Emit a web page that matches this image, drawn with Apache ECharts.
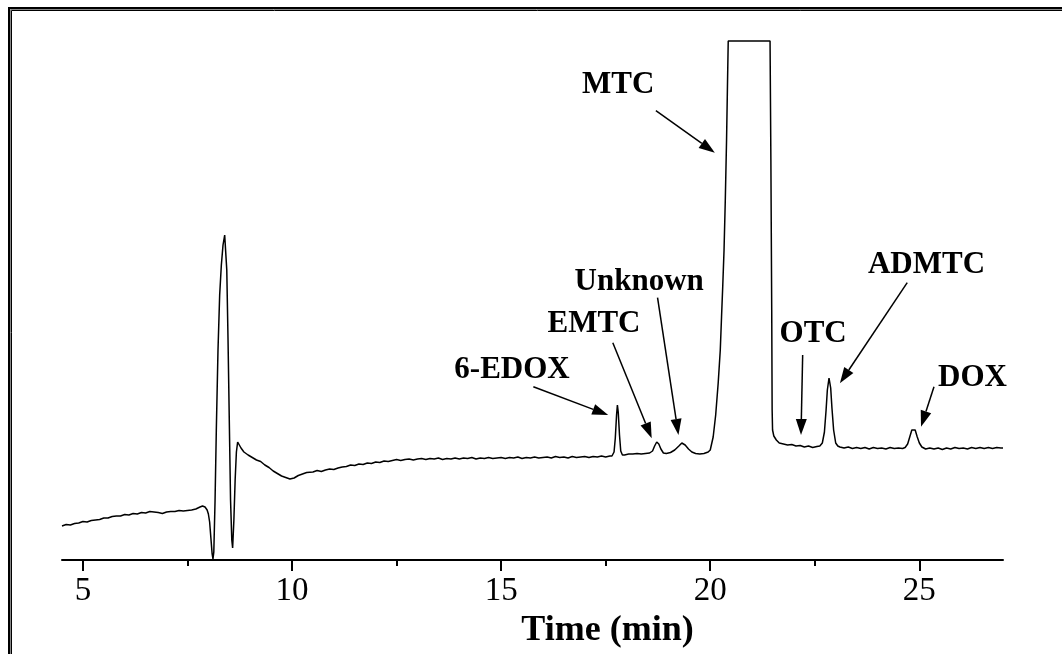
<!DOCTYPE html>
<html>
<head>
<meta charset="utf-8">
<script src="https://cdn.jsdelivr.net/npm/echarts@6/dist/echarts.min.js"></script>
<style>
  html, body { margin: 0; padding: 0; background: #fff; }
  #chart { width: 1062px; height: 654px; }
</style>
</head>
<body>
<div id="chart"></div>
<script>
// Retention time (min) of each sampled point of the chromatogram trace
const timeMin = [
  4.50, 4.60, 4.70, 4.80, 4.90, 5.00, 5.10, 5.20, 5.30, 5.40,
  5.50, 5.60, 5.70, 5.80, 5.90, 6.00, 6.10, 6.20, 6.30, 6.40,
  6.50, 6.60, 6.70, 6.80, 6.90, 7.00, 7.10, 7.20, 7.30, 7.40,
  7.50, 7.60, 7.70, 7.80, 7.86, 7.92, 7.97, 8.00, 8.03, 8.06,
  8.09, 8.11, 8.13, 8.16, 8.19, 8.23, 8.27, 8.31, 8.35, 8.39,
  8.41, 8.44, 8.47, 8.50, 8.53, 8.56, 8.58, 8.61, 8.64, 8.67,
  8.70, 8.73, 8.78, 8.85, 8.95, 9.05, 9.15, 9.25, 9.35, 9.45,
  9.55, 9.65, 9.75, 9.85, 9.95, 10.05, 10.15, 10.25, 10.35, 10.50,
  10.6, 10.7, 10.8, 10.9, 11.0, 11.1, 11.2, 11.3, 11.4, 11.5,
  11.6, 11.7, 11.8, 11.9, 12.0, 12.1, 12.2, 12.3, 12.4, 12.5,
  12.6, 12.7, 12.8, 12.9, 13.0, 13.1, 13.2, 13.3, 13.4, 13.5,
  13.6, 13.7, 13.8, 13.9, 14.0, 14.1, 14.2, 14.3, 14.4, 14.5,
  14.6, 14.7, 14.8, 14.9, 15.0, 15.1, 15.2, 15.3, 15.4, 15.5,
  15.6, 15.7, 15.8, 15.9, 16.0, 16.1, 16.2, 16.3, 16.4, 16.5,
  16.6, 16.7, 16.8, 16.9, 17.0, 17.1, 17.2, 17.3, 17.4, 17.5,
  17.60, 17.65, 17.70, 17.73, 17.76, 17.78, 17.80, 17.83, 17.86, 17.90,
  17.95, 18.05, 18.15, 18.25, 18.35, 18.45, 18.55, 18.62, 18.67, 18.72,
  18.77, 18.82, 18.88, 18.95, 19.05, 19.15, 19.25, 19.32, 19.40, 19.48,
  19.56, 19.65, 19.75, 19.85, 19.95, 20.00, 20.07, 20.13, 20.19, 20.24,
  20.27, 20.30, 20.33, 20.36, 20.39, 20.41, 20.43, 21.43, 21.45, 21.47,
  21.48, 21.49, 21.52, 21.58, 21.65, 21.75, 21.85, 21.95, 22.05, 22.15,
  22.25, 22.35, 22.45, 22.55, 22.62, 22.68, 22.73, 22.77, 22.80, 22.84,
  22.88, 22.91, 22.95, 23.00, 23.05, 23.10, 23.20, 23.30, 23.40, 23.50,
  23.60, 23.70, 23.80, 23.90, 24.00, 24.10, 24.20, 24.30, 24.40, 24.50,
  24.60, 24.66, 24.72, 24.77, 24.82, 24.86, 24.90, 24.95, 25.00, 25.06,
  25.15, 25.25, 25.35, 25.45, 25.55, 25.65, 25.75, 25.85, 25.95, 26.05,
  26.15, 26.25, 26.35, 26.45, 26.55, 26.65, 26.75, 26.85, 26.95, 27.00
];

// Detector response (arbitrary units) at each retention time; 519 is the saturated MTC top
const signal = [
  34, 35.5, 35, 36.5, 37, 38.5, 38, 39.5, 40, 40.5,
  42, 42, 43.5, 44, 44, 45.5, 45, 46.5, 46, 47.5,
  47, 48.5, 48, 47.5, 46.5, 48, 48.5, 48.5, 49.5, 49,
  49.5, 50, 51, 53, 54, 53, 50, 46, 38, 22,
  6, 1, 8, 60, 130, 210, 265, 295, 315, 325,
  323, 290, 220, 140, 60, 20, 12, 40, 80, 108,
  118, 117, 112, 108, 105, 102.5, 100, 98.5, 95, 92.5,
  89, 86.5, 84, 82.5, 81, 82, 84.5, 86, 87.5, 88,
  89.5, 88.5, 90, 91, 90.5, 92, 93, 93.5, 95, 94.5,
  96, 95.5, 97, 96.5, 98, 97.5, 99, 98.5, 99.5, 100.5,
  99.5, 100.5, 101, 100, 101, 101.5, 100.5, 101.5, 101, 102,
  100.5, 101.5, 101, 102, 101, 102, 101.5, 102.5, 101, 102,
  101.5, 102.5, 101.5, 102, 102.5, 101.5, 102.5, 102, 103, 101.5,
  102.5, 102, 103, 102, 102.5, 103, 102, 103.5, 102.5, 103,
  102, 103.5, 102.5, 103, 103.5, 102.5, 103.5, 103, 104, 103,
  104, 104, 108, 122, 145, 155, 148, 125, 109, 105,
  105, 106, 106, 106.5, 106, 106.5, 107, 109, 114, 118,
  116, 111, 107, 106.5, 107.5, 110, 114, 117, 115, 111,
  108, 106.5, 106, 106.5, 108, 110, 123, 145, 177, 210,
  243, 275, 310, 360, 420, 470, 519, 519, 400, 250,
  150, 130, 124, 120, 117, 116, 115, 115.5, 114, 114.5,
  113, 114, 112.5, 113.5, 114, 117, 128, 150, 170, 182,
  172, 152, 130, 117, 114, 113, 112, 113, 111.5, 112.5,
  111.5, 112.5, 111, 112.5, 111.5, 112, 111, 112.5, 111.5, 112,
  111.5, 112.5, 116, 123, 130, 132, 130, 123, 117, 113,
  111, 112, 111, 112, 110.5, 112, 111, 112.5, 111.5, 112,
  111, 112.5, 111.5, 112.5, 111.5, 112.5, 111.5, 112.5, 112, 112
];

// Major tick values on the time axis
const tickValues = [5, 10, 15, 20, 25];

// Peak annotations: name, text anchor, arrow start and arrow tip (time, response)
const peakNames  = ['6-EDOX', 'EMTC', 'Unknown', 'MTC', 'OTC', 'ADMTC', 'DOX'];
const labelAt    = [[15.26, 190], [17.22, 236], [18.30, 278], [17.80, 475], [22.46, 226], [25.17, 295], [26.27, 182.5]];
const arrowFrom  = [[15.77, 173.3], [17.67, 217.3], [18.74, 262.3], [18.70, 449.3], [22.21, 205], [24.71, 277.3], [25.35, 173.3]];
const arrowTo    = [[17.56, 145], [18.60, 121.7], [19.24, 125], [20.11, 407.3], [22.17, 125], [23.10, 176.7], [25.04, 133.3]];

const SERIF = '"Liberation Serif", "Times New Roman", serif';

const chart = echarts.init(document.getElementById('chart'), null, { renderer: 'canvas' });

chart.setOption({
  animation: false,
  backgroundColor: '#fff',
  grid: { left: 62, right: 59, top: 40, bottom: 94 },
  xAxis: {
    type: 'value',
    min: 4.5,
    max: 27,
    axisLine: { show: true, onZero: false, lineStyle: { color: '#000', width: 2 } },
    axisTick: { show: true, inside: false, length: 11, customValues: tickValues,
                lineStyle: { color: '#000', width: 2 } },
    minorTick: { show: true, splitNumber: 2, length: 6, lineStyle: { color: '#000', width: 2 } },
    axisLabel: { customValues: tickValues, margin: 15, color: '#000',
                 fontFamily: SERIF, fontSize: 33 },
    splitLine: { show: false },
    minorSplitLine: { show: false },
    name: 'Time (min)',
    nameLocation: 'middle',
    nameGap: 48,
    nameTextStyle: { fontFamily: SERIF, fontWeight: 'bold', fontSize: 36, color: '#000',
                     padding: [0, 0, 0, 150] }
  },
  yAxis: { type: 'value', min: 0, max: 520, show: false },
  series: [{
    type: 'line',
    data: timeMin.map((t, i) => [t, signal[i]]),
    showSymbol: false,
    symbol: 'none',
    clip: true,
    lineStyle: { color: '#000', width: 1.5 }
  }]
});

// Frame, peak labels and arrows placed from data coordinates
function buildGraphics() {
  const els = [
    { type: 'rect', shape: { x: 9, y: 8, width: 1200, height: 800 },
      style: { fill: null, stroke: '#000', lineWidth: 2 }, silent: true },
    { type: 'rect', shape: { x: 10.5, y: 9.5, width: 1200, height: 800 },
      style: { fill: null, stroke: '#888', lineWidth: 1 }, silent: true },
    { type: 'rect', shape: { x: 11.5, y: 10.5, width: 1200, height: 800 },
      style: { fill: null, stroke: '#000', lineWidth: 1 }, silent: true }
  ];
  const headLen = 16, headHalf = 5.5;
  peakNames.forEach((name, i) => {
    const p = chart.convertToPixel({ gridIndex: 0 }, labelAt[i]);
    const a = chart.convertToPixel({ gridIndex: 0 }, arrowFrom[i]);
    const b = chart.convertToPixel({ gridIndex: 0 }, arrowTo[i]);
    const dx = b[0] - a[0], dy = b[1] - a[1];
    const len = Math.sqrt(dx * dx + dy * dy);
    const ux = dx / len, uy = dy / len;
    const bx = b[0] - ux * headLen, by = b[1] - uy * headLen;
    els.push({
      type: 'line', silent: true,
      shape: { x1: a[0], y1: a[1], x2: bx, y2: by },
      style: { stroke: '#000', lineWidth: 1.5 }
    });
    els.push({
      type: 'polygon', silent: true,
      shape: { points: [[b[0], b[1]], [bx - uy * headHalf, by + ux * headHalf], [bx + uy * headHalf, by - ux * headHalf]] },
      style: { fill: '#000' }
    });
    els.push({
      type: 'text', silent: true, x: p[0], y: p[1],
      style: { text: name, fontFamily: SERIF, fontWeight: 'bold', fontSize: 31, fill: '#000',
               align: 'center', verticalAlign: 'middle',
               textAlign: 'center', textVerticalAlign: 'middle' }
    });
  });
  chart.setOption({ graphic: { elements: els } });
}
buildGraphics();
</script>
</body>
</html>
